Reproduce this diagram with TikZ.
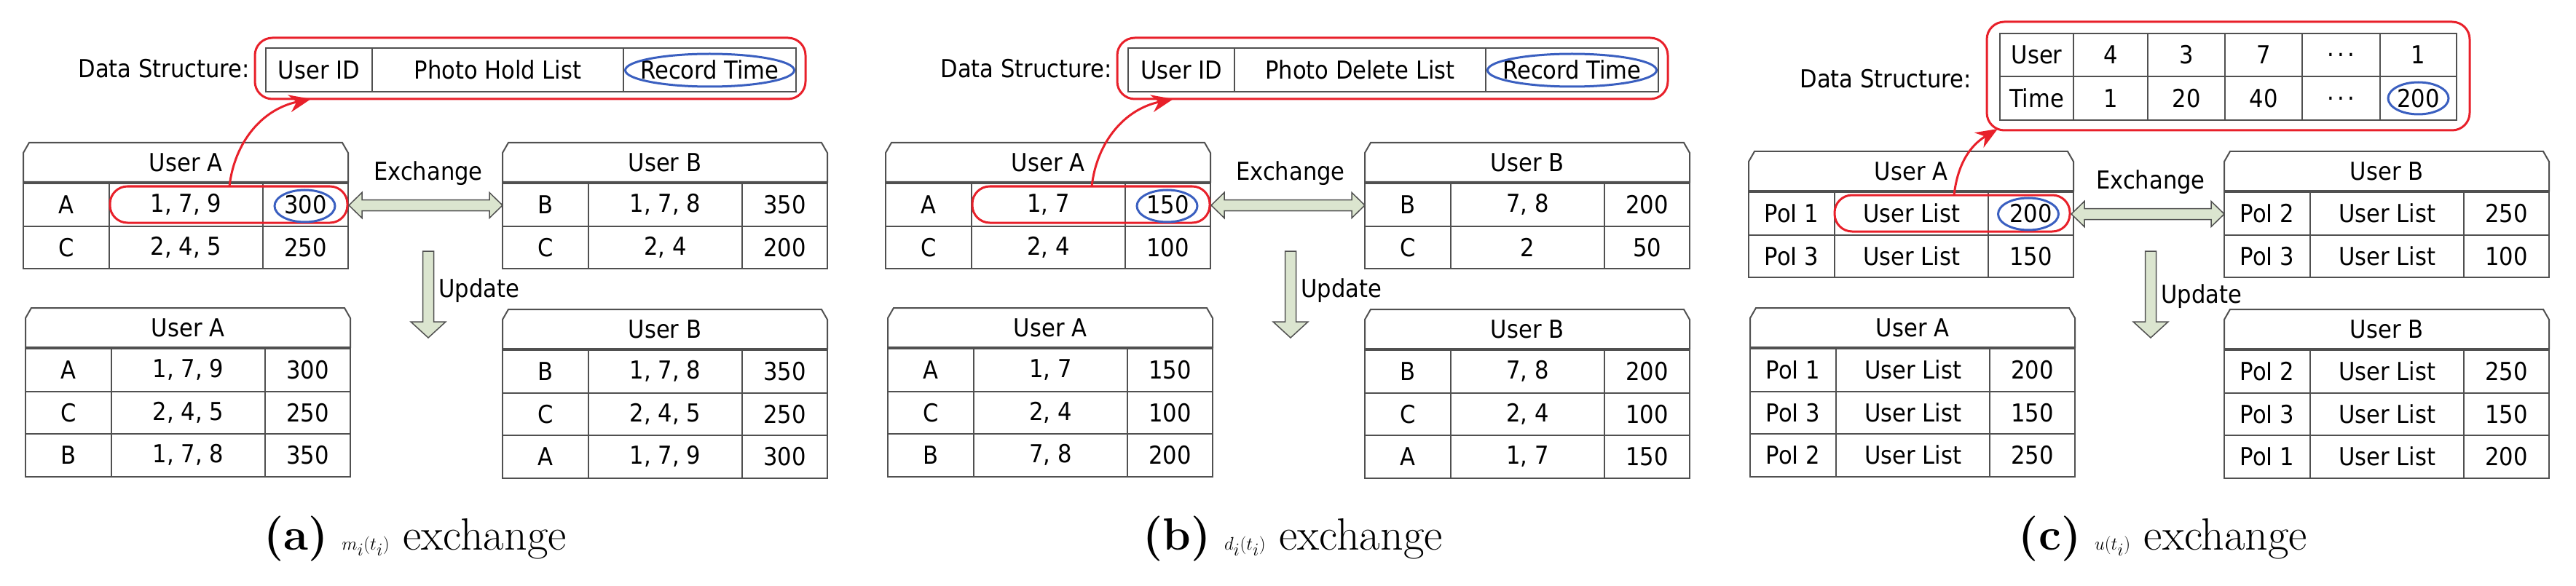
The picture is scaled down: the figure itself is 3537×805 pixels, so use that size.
\documentclass[tikz,border=0pt]{standalone}
\usepackage{fontspec}
\usetikzlibrary{arrows.meta}
\newfontfamily\tabfont{DejaVu Sans Condensed}
\definecolor{hred}{HTML}{E8202A}
\definecolor{hblue}{HTML}{3A5FC0}
\definecolor{agreen}{HTML}{DBE5CF}
\definecolor{tgray}{HTML}{505050}
\tikzset{
 tline/.style={draw=tgray,line width=2pt},
 cell/.style={tline,minimum height=58.5pt,inner sep=0pt,font=\tabfont\fontsize{34}{34}\selectfont},
 txt/.style={inner sep=0pt,font=\tabfont\fontsize{34}{34}\selectfont},
 hl/.style={draw=hred,line width=3pt,rounded corners=24pt},
 hb/.style={draw=hblue,line width=3pt},
 harr/.style={draw=hred,line width=3pt,-{Stealth[length=30pt,width=24pt]}},
 bigarr/.style={draw=tgray,line width=1.5pt,fill=agreen},
 captxt/.style={inner sep=0pt,font=\fontsize{62}{62}\selectfont},
}
\newcommand\dts{.\kern4pt.\kern4pt.}
% #1 name, #2 x, #3 y, #4 title, #5 rows
\newcommand\utab[5]{%
\begin{scope}[shift={(#2,#3)}]
 \draw[tline] (0,54) -- (0,14) -- (8,0) -- (438,0) -- (446,14) -- (446,54) -- cycle;
 \node[txt] (#1-h) at (223,27) {#4};
 \foreach[count=\i] \a/\b/\c in {#5}{
  \pgfmathsetmacro\yy{56+29.25+(\i-1)*58.5}
  \node[cell,minimum width=118pt] (#1-\i-1) at (59,\yy) {\a};
  \node[cell,minimum width=211pt] (#1-\i-2) at (223.5,\yy) {\b};
  \node[cell,minimum width=117pt] (#1-\i-3) at (387.5,\yy) {\c};
 }
\end{scope}}
% #1 name, #2 x-left, #3 x-right, #4 y-center
\newcommand\xarr[4]{\draw[bigarr] (#2,#4) -- (#2+18,#4-17.5) -- (#2+18,#4-7.5) -- (#3-18,#4-7.5) -- (#3-18,#4-17.5) -- (#3,#4) -- (#3-18,#4+17.5) -- (#3-18,#4+7.5) -- (#2+18,#4+7.5) -- (#2+18,#4+17.5) -- cycle;}
\newcommand\uarr[1]{\draw[bigarr] (#1-7.5,345) -- (#1+7.5,345) -- (#1+7.5,442) -- (#1+24,442) -- (#1,464) -- (#1-24,442) -- (#1-7.5,442) -- cycle;}
% panel a/b: #1 prefix, #2 offset, #3 list title, #4..#7 tables
\newcommand\panelab[7]{%
\begin{scope}[shift={(#2,0)}]
 \node[txt,anchor=east] (#1-dl) at (343,94) {Data Structure:};
 \node[cell,minimum width=146pt,minimum height=60pt] (#1-d1) at (438,96) {User ID};
 \node[cell,minimum width=345pt,minimum height=60pt] (#1-d2) at (683.5,96) {#3};
 \node[cell,minimum width=237pt,minimum height=60pt] (#1-d3) at (974.5,96) {Record Time};
 \draw[hl] (350,52) rectangle (1106,136);
 \draw[hb] (974.5,96.5) ellipse [x radius=116pt,y radius=22.5pt];
 \utab{#1-tA}{32}{196}{User A}{#4}
 \utab{#1-tB}{690}{196}{User B}{#5}
 \utab{#1-bA}{35}{423}{User A}{#6}
 \utab{#1-bB}{690}{425}{User B}{#7}
 \draw[hl] (151,256) rectangle (477,306);
 \draw[hb] (418.5,283) ellipse [x radius=41.5pt,y radius=22pt];
 \draw[harr] (315,256) .. controls (322,195) and (360,150) .. (427,136);
 \xarr{#1-x}{479}{690}{282}
 \node[txt] (#1-xl) at (588,238) {Exchange};
 \uarr{588}
 \node[txt,anchor=west] (#1-ul) at (602,399) {Update};
\end{scope}}
\begin{document}
\begin{tikzpicture}[x=1pt,y=-1pt]
\useasboundingbox (0,0) rectangle (3537,805);
\panelab{a}{0}{Photo Hold List}{A/{1, 7, 9}/300,C/{2, 4, 5}/250}{B/{1, 7, 8}/350,C/{2, 4}/200}{A/{1, 7, 9}/300,C/{2, 4, 5}/250,B/{1, 7, 8}/350}{B/{1, 7, 8}/350,C/{2, 4, 5}/250,A/{1, 7, 9}/300}
\panelab{b}{1184}{Photo Delete List}{A/{1, 7}/150,C/{2, 4}/100}{B/{7, 8}/200,C/2/50}{A/{1, 7}/150,C/{2, 4}/100,B/{7, 8}/200}{B/{7, 8}/200,C/{2, 4}/100,A/{1, 7}/150}
% panel c
\node[txt,anchor=east] (c-dl) at (2707,108) {Data Structure:};
\foreach[count=\j] \u/\t/\xl/\xr in {User/Time/2746/2847,4/1/2847/2949,3/20/2949/3055,7/40/3055/3161,\dts/\dts/3161/3268,1/200/3268/3373}{
 \node[cell,minimum width={\xr-\xl},minimum height=59.5pt] (c-g1-\j) at ({(\xl+\xr)/2},75.5) {\u};
 \node[cell,minimum width={\xr-\xl},minimum height=59.5pt] (c-g2-\j) at ({(\xl+\xr)/2},135) {\t};
}
\draw[hl] (2728,30) rectangle (3391,179);
\draw[hb] (3320.5,135) ellipse [x radius=41.5pt,y radius=22pt];
\utab{c-tA}{2401}{208}{User A}{PoI 1/User List/200,PoI 3/User List/150}
\utab{c-tB}{3054}{208}{User B}{PoI 2/User List/250,PoI 3/User List/100}
\utab{c-bA}{2403}{423}{User A}{PoI 1/User List/200,PoI 3/User List/150,PoI 2/User List/250}
\utab{c-bB}{3054}{425}{User B}{PoI 2/User List/250,PoI 3/User List/150,PoI 1/User List/200}
\draw[hl] (2519,268) rectangle (2842,318);
\draw[hb] (2785,294) ellipse [x radius=41.5pt,y radius=22pt];
\draw[harr] (2683,268) .. controls (2688,225) and (2705,200) .. (2743,177);
\xarr{c-x}{2844}{3054}{294}
\node[txt] (c-xl) at (2953,250) {Exchange};
\uarr{2953}
\node[txt,anchor=west] (c-ul) at (2967,407) {Update};
% captions
\node[captxt] (capa) at (570,740) {\textbf{(a)} $m_i(t_i)$ exchange};
\node[captxt] (capb) at (1775,740) {\textbf{(b)} $d_i(t_i)$ exchange};
\node[captxt] (capc) at (2970,740) {\textbf{(c)} $u(t_i)$ exchange};
\end{tikzpicture}
\end{document}
